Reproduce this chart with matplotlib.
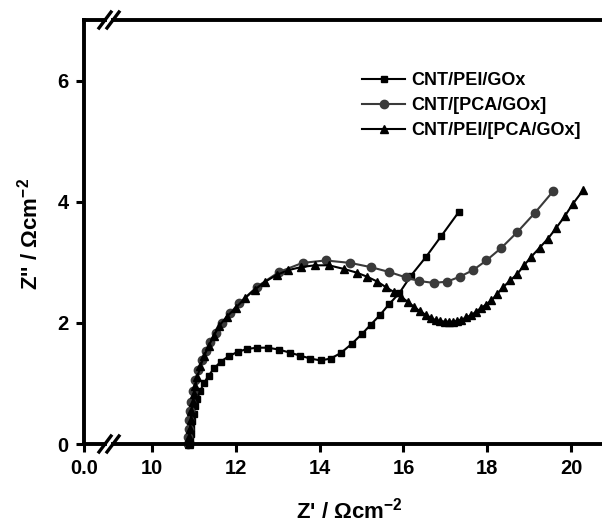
"""
Nyquist plot with a broken Z' axis.
"""

import numpy as np
import matplotlib
matplotlib.use("Agg")
import matplotlib.pyplot as plt
from matplotlib.lines import Line2D

plt.rcParams['font.family'] = ['Liberation Sans', 'DejaVu Sans']
plt.rcParams['font.weight'] = 'bold'
plt.rcParams['mathtext.fontset'] = 'custom'
plt.rcParams['mathtext.rm'] = 'Liberation Sans'
plt.rcParams['mathtext.bf'] = 'Liberation Sans:bold'
plt.rcParams['axes.unicode_minus'] = False

#--------------------------------------------------------------
# data
#--------------------------------------------------------------
pei_x = [10.90, 10.91, 10.92, 10.94, 10.96, 10.99, 11.03, 11.08, 11.15, 11.24,
         11.35, 11.48, 11.64, 11.83, 12.04, 12.27, 12.51, 12.76, 13.02, 13.28,
         13.53, 13.78, 14.02, 14.26, 14.50, 14.76, 15.00, 15.22, 15.44, 15.66,
         15.90, 16.18, 16.54, 16.90, 17.32]
pei_y = [0.00, 0.08, 0.17, 0.27, 0.38, 0.50, 0.62, 0.75, 0.88, 1.01,
         1.13, 1.25, 1.36, 1.45, 1.52, 1.57, 1.59, 1.59, 1.56, 1.51,
         1.46, 1.41, 1.38, 1.41, 1.50, 1.65, 1.81, 1.97, 2.13, 2.31,
         2.49, 2.78, 3.09, 3.43, 3.83]

pca_x = [10.85, 10.86, 10.87, 10.89, 10.91, 10.94, 10.98, 11.03, 11.10, 11.19,
         11.28, 11.39, 11.52, 11.67, 11.86, 12.07, 12.51, 13.03, 13.59, 14.14,
         14.73, 15.22, 15.66, 16.06, 16.38, 16.72, 17.04, 17.34, 17.66, 17.98,
         18.34, 18.72, 19.13, 19.57]
pca_y = [0.00, 0.12, 0.25, 0.39, 0.54, 0.70, 0.87, 1.05, 1.22, 1.38,
         1.53, 1.69, 1.84, 1.99, 2.16, 2.32, 2.60, 2.84, 2.99, 3.03,
         2.99, 2.92, 2.84, 2.75, 2.69, 2.66, 2.68, 2.76, 2.87, 3.03,
         3.24, 3.50, 3.81, 4.17]

both_x = [10.88, 10.89, 10.90, 10.92, 10.94, 10.97, 10.99, 11.02, 11.08, 11.15,
          11.24, 11.35, 11.47, 11.60, 11.78, 12.00, 12.22, 12.45, 12.70, 12.97,
          13.25, 13.55, 13.88, 14.22, 14.58, 14.88, 15.14, 15.38, 15.58, 15.77,
          15.94, 16.10, 16.26, 16.40, 16.54, 16.66, 16.78, 16.88, 16.98, 17.08,
          17.18, 17.28, 17.38, 17.50, 17.62, 17.73, 17.84, 17.97, 18.10, 18.24,
          18.38, 18.55, 18.72, 18.88, 19.05, 19.25, 19.45, 19.65, 19.85, 20.05,
          20.29]
both_y = [0.00, 0.12, 0.25, 0.39, 0.54, 0.70, 0.82, 0.95, 1.10, 1.28,
          1.45, 1.62, 1.78, 1.95, 2.10, 2.25, 2.41, 2.55, 2.68, 2.79,
          2.87, 2.92, 2.95, 2.95, 2.89, 2.83, 2.76, 2.68, 2.59, 2.51,
          2.43, 2.35, 2.26, 2.19, 2.13, 2.08, 2.04, 2.03, 2.02, 2.02,
          2.02, 2.03, 2.05, 2.09, 2.13, 2.18, 2.24, 2.30, 2.37, 2.48,
          2.59, 2.70, 2.81, 2.95, 3.09, 3.24, 3.39, 3.57, 3.76, 3.97,
          4.19]

labels = ["CNT/PEI/GOx", "CNT/[PCA/GOx]", "CNT/PEI/[PCA/GOx]"]

y_ticks = [0, 2, 4, 6]
x_ticks = [10, 12, 14, 16, 18, 20]

#--------------------------------------------------------------
# figure and the two halves of the broken axis
#--------------------------------------------------------------
W, H = 602, 524
fig = plt.figure(figsize=(W / 100, H / 100), dpi=100)

bot = 80 / H
hgt = 424 / H
ax0 = fig.add_axes([84 / W, bot, 21 / W, hgt])     # little "0.0" piece
ax1 = fig.add_axes([113 / W, bot, 1 - 113 / W, hgt])  # main piece

spine_w = 2.8
for ax in (ax0, ax1):
    for s in ax.spines.values():
        s.set_linewidth(spine_w)
    ax.spines['right'].set_visible(False)
    ax.set_ylim(0, 7)
    ax.tick_params(direction='out', length=6, width=2.2, labelsize=14.5, pad=5)

ax0.set_xlim(0, 1)
ax0.set_xticks([0])
ax0.set_xticklabels(["0.0"], fontweight='bold')
ax0.set_yticks(y_ticks)
ax0.set_yticklabels([str(t) for t in y_ticks], fontweight='bold')

ax1.spines['left'].set_visible(False)
ax1.set_xlim(9.066, 20.74)
ax1.set_xticks(x_ticks)
ax1.set_xticklabels([str(t) for t in x_ticks], fontweight='bold')
ax1.set_yticks([])

#---------------------------------------------------------
# the curves
#---------------------------------------------------------
ax1.plot(pei_x, pei_y, '-s', color='black', lw=1.5, ms=4.8, label=labels[0],
         clip_on=False)
ax1.plot(pca_x, pca_y, '-o', color='#3a3a3a', lw=1.5, ms=6, label=labels[1],
         clip_on=False)
ax1.plot(both_x, both_y, '-^', color='black', lw=1.5, ms=5.8, label=labels[2],
         clip_on=False)

leg = ax1.legend(loc='upper left', bbox_to_anchor=(362 / W, 1 - 72 / H),
                 bbox_transform=fig.transFigure, frameon=False,
                 prop={'weight': 'bold', 'size': 13}, handlelength=2.4,
                 handletextpad=0.3, labelspacing=0.45, borderpad=0,
                 borderaxespad=0)

#---------------------------------------------------------
# break marks "//" on top and bottom
#---------------------------------------------------------
for yp in (20, 444):
    for xc in (105, 113):
        xs = [(xc - 6) / W, (xc + 6) / W]
        ys = [1 - (yp + 8) / H, 1 - (yp - 8) / H]
        fig.add_artist(Line2D(xs, ys, color='black', lw=2.4,
                              transform=fig.transFigure))

#---------------------------------------------------------
# axis labels
#---------------------------------------------------------
fig.text(349 / W, 6 / H, r"Z' / $\mathrm{\Omega}$cm$^{\mathbf{-2}}$",
         ha='center', va='baseline', fontsize=16, fontweight='bold')
fig.text(30 / W, 1 - 234 / H, r"Z'' / $\mathrm{\Omega}$cm$^{\mathbf{-2}}$",
         ha='center', va='center', rotation=90, fontsize=16, fontweight='bold')

fig.savefig("out.png", dpi=100)
